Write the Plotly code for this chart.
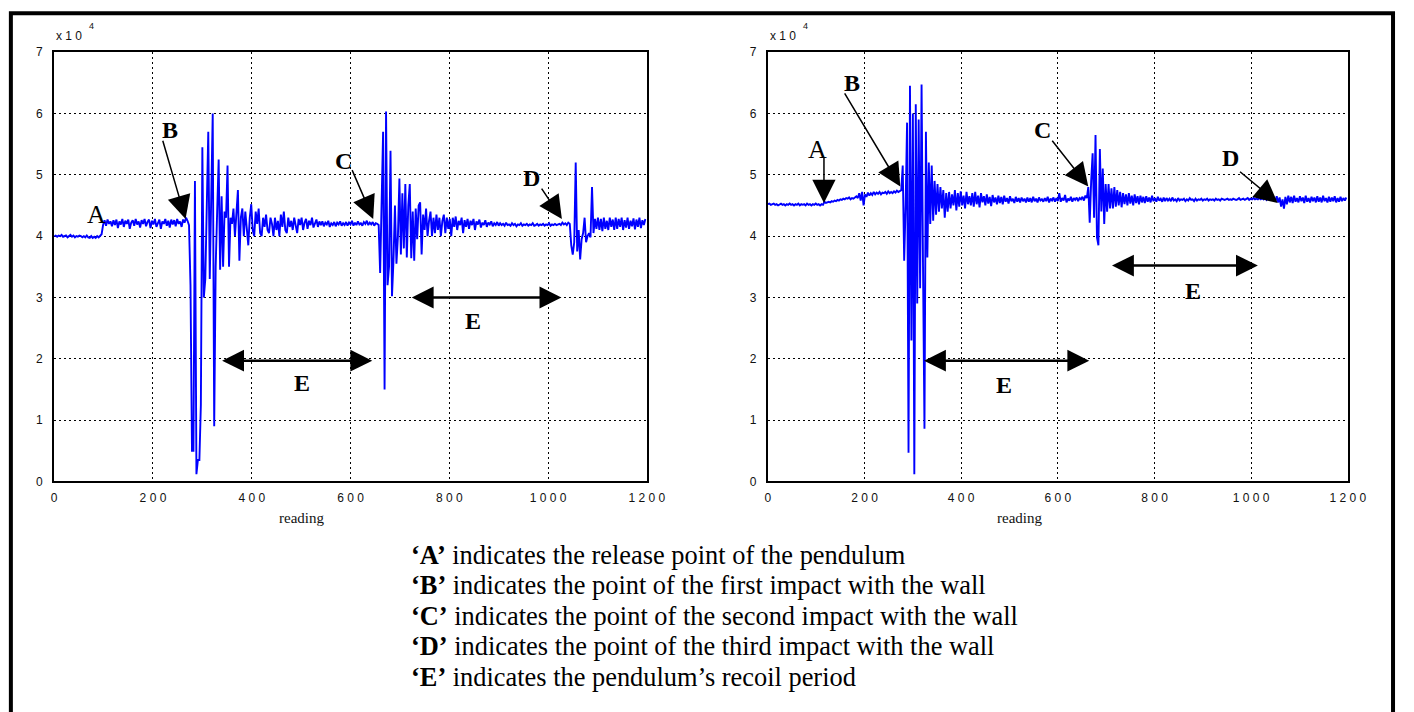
import numpy as np
import plotly.graph_objects as go

# Sensor readings sampled every 3rd reading (values in units of 10^4)
STEP = 3
readings = np.arange(0, 1200, STEP)

# Left test: three impacts with the wall
left_values = [
    4.00, 4.01, 3.99, 4.01, 4.00, 4.02, 3.99, 4.00, 4.01, 3.98, 4.00, 4.02, 3.99, 4.01, 3.98, 4.00, 3.99, 4.01, 4.00, 3.98,
    4.00, 3.98, 4.01, 3.98, 3.97, 4.00, 3.97, 3.99, 3.97, 4.00, 3.98, 4.01, 4.03, 4.18, 4.26, 4.17, 4.27, 4.20, 4.24, 4.16,
    4.26, 4.18, 4.27, 4.13, 4.24, 4.19, 4.28, 4.15, 4.25, 4.20, 4.27, 4.12, 4.22, 4.26, 4.17, 4.28, 4.19, 4.24, 4.14, 4.26,
    4.20, 4.28, 4.16, 4.23, 4.27, 4.13, 4.25, 4.19, 4.28, 4.15, 4.22, 4.27, 4.12, 4.24, 4.20, 4.28, 4.17, 4.25, 4.14, 4.27,
    4.19, 4.26, 4.16, 4.28, 4.20, 4.24, 4.15, 4.27, 4.22, 4.30, 4.25, 4.18, 3.20, 0.50, 0.50, 4.90, 0.12, 0.35, 0.35, 1.25,
    5.45, 3.00, 3.30, 4.50, 5.70, 3.30, 4.60, 6.00, 0.90, 3.50, 4.40, 5.25, 3.45, 4.65, 3.50, 4.40, 4.30, 5.15, 3.50, 4.30,
    4.20, 4.45, 4.00, 4.30, 4.75, 3.60, 4.30, 4.45, 4.00, 4.40, 4.10, 3.85, 4.30, 4.52, 4.10, 4.00, 4.40, 4.20, 4.45, 4.05,
    4.00, 4.30, 4.15, 4.35, 4.10, 4.05, 4.30, 4.20, 4.00, 4.30, 4.10, 4.25, 4.00, 4.35, 4.15, 4.40, 4.10, 4.05, 4.30, 4.15,
    4.25, 4.10, 4.30, 4.15, 4.05, 4.28, 4.18, 4.30, 4.10, 4.22, 4.28, 4.12, 4.25, 4.18, 4.30, 4.14, 4.22, 4.27, 4.15, 4.24,
    4.18, 4.24, 4.16, 4.22, 4.19, 4.25, 4.15, 4.21, 4.18, 4.23, 4.16, 4.22, 4.19, 4.24, 4.17, 4.21, 4.18, 4.23, 4.17, 4.22,
    4.19, 4.25, 4.17, 4.22, 4.18, 4.24, 4.19, 4.21, 4.17, 4.23, 4.20, 4.25, 4.18, 4.22, 4.19, 4.23, 4.17, 4.21, 4.20, 4.18,
    3.40, 4.90, 5.70, 1.50, 6.03, 3.20, 3.50, 5.39, 3.02, 3.60, 4.50, 3.55, 4.00, 4.94, 3.70, 4.70, 3.80, 4.85, 3.65, 4.50,
    4.85, 3.64, 4.40, 3.60, 4.45, 3.95, 4.50, 4.55, 3.70, 4.35, 4.10, 4.45, 4.00, 4.25, 4.40, 4.00, 4.30, 4.05, 4.35, 4.10,
    4.30, 4.00, 4.25, 4.35, 4.05, 4.30, 4.12, 4.28, 4.00, 4.30, 4.15, 4.32, 4.10, 4.25, 4.18, 4.30, 4.05, 4.26, 4.15, 4.28,
    4.12, 4.25, 4.18, 4.28, 4.10, 4.24, 4.19, 4.27, 4.14, 4.22, 4.18, 4.26, 4.15, 4.22, 4.19, 4.24, 4.16, 4.21, 4.18, 4.23,
    4.17, 4.21, 4.18, 4.20, 4.17, 4.22, 4.18, 4.19, 4.17, 4.21, 4.18, 4.20, 4.16, 4.19, 4.18, 4.21, 4.17, 4.19, 4.18, 4.20,
    4.17, 4.19, 4.18, 4.21, 4.17, 4.18, 4.20, 4.17, 4.19, 4.18, 4.20, 4.17, 4.19, 4.18, 4.21, 4.17, 4.19, 4.18, 4.20, 4.18,
    4.19, 4.20, 4.18, 4.22, 4.19, 4.21, 4.18, 4.22, 4.20, 3.85, 3.70, 3.90, 5.20, 3.75, 4.10, 3.62, 3.95, 4.05, 4.30, 3.90,
    4.00, 4.05, 3.98, 4.80, 4.05, 4.28, 4.12, 4.30, 4.10, 4.28, 4.08, 4.30, 4.12, 4.25, 4.10, 4.30, 4.15, 4.27, 4.10, 4.30,
    4.12, 4.28, 4.15, 4.30, 4.10, 4.26, 4.14, 4.30, 4.12, 4.25, 4.16, 4.29, 4.11, 4.27, 4.15, 4.30, 4.13, 4.26, 4.18, 4.28,
]

# Right test: one hard impact, a weaker second and a faint third
right_values = [
    4.52, 4.53, 4.51, 4.52, 4.53, 4.51, 4.52, 4.50, 4.52, 4.53, 4.51, 4.52, 4.50, 4.52, 4.51, 4.53, 4.51, 4.52, 4.50, 4.52,
    4.51, 4.53, 4.50, 4.52, 4.51, 4.52, 4.50, 4.53, 4.51, 4.52, 4.50, 4.52, 4.51, 4.53, 4.51, 4.52, 4.50, 4.52, 4.51, 4.56,
    4.54, 4.55, 4.56, 4.55, 4.57, 4.56, 4.58, 4.57, 4.59, 4.58, 4.60, 4.59, 4.61, 4.60, 4.62, 4.61, 4.63, 4.60, 4.62, 4.61,
    4.63, 4.65, 4.62, 4.70, 4.58, 4.72, 4.50, 4.68, 4.64, 4.71, 4.66, 4.70, 4.67, 4.72, 4.68, 4.71, 4.69, 4.72, 4.68, 4.71,
    4.70, 4.72, 4.69, 4.73, 4.70, 4.72, 4.70, 4.73, 4.71, 4.74, 4.72, 4.74, 4.75, 5.15, 3.60, 4.50, 5.85, 0.47, 6.45, 2.30,
    6.00, 0.12, 6.15, 2.90, 5.90, 3.15, 6.47, 3.50, 0.86, 5.70, 3.65, 5.20, 4.20, 5.15, 4.25, 4.90, 4.35, 4.85, 4.40, 4.80,
    4.45, 4.75, 4.30, 4.70, 4.40, 4.72, 4.45, 4.68, 4.50, 4.75, 4.42, 4.70, 4.48, 4.73, 4.50, 4.66, 4.45, 4.72, 4.52, 4.65,
    4.50, 4.70, 4.48, 4.72, 4.52, 4.66, 4.47, 4.70, 4.55, 4.65, 4.50, 4.68, 4.53, 4.64, 4.49, 4.67, 4.55, 4.63, 4.52, 4.66,
    4.54, 4.64, 4.52, 4.66, 4.56, 4.62, 4.53, 4.65, 4.57, 4.61, 4.54, 4.64, 4.56, 4.62, 4.55, 4.63, 4.57, 4.61, 4.55, 4.63,
    4.56, 4.62, 4.55, 4.64, 4.57, 4.61, 4.55, 4.63, 4.58, 4.60, 4.56, 4.62, 4.57, 4.64, 4.55, 4.61, 4.58, 4.63, 4.56, 4.62,
    4.57, 4.70, 4.56, 4.62, 4.58, 4.67, 4.55, 4.61, 4.58, 4.64, 4.56, 4.62, 4.59, 4.63, 4.57, 4.62, 4.60, 4.64, 4.58, 4.66,
    4.62, 4.80, 4.22, 4.90, 5.35, 4.30, 5.65, 3.98, 3.85, 5.42, 4.40, 5.10, 4.20, 4.85, 4.40, 4.85, 4.45, 4.78, 4.45, 4.80,
    4.48, 4.75, 4.50, 4.72, 4.47, 4.70, 4.52, 4.68, 4.50, 4.70, 4.53, 4.66, 4.50, 4.68, 4.54, 4.65, 4.52, 4.66, 4.55, 4.64,
    4.54, 4.65, 4.56, 4.63, 4.55, 4.66, 4.57, 4.62, 4.56, 4.64, 4.58, 4.61, 4.56, 4.63, 4.57, 4.62, 4.58, 4.61, 4.57, 4.63,
    4.58, 4.60, 4.57, 4.62, 4.58, 4.60, 4.59, 4.61, 4.57, 4.60, 4.58, 4.62, 4.59, 4.60, 4.57, 4.61, 4.58, 4.60, 4.59, 4.61,
    4.58, 4.60, 4.59, 4.61, 4.58, 4.60, 4.59, 4.60, 4.58, 4.61, 4.59, 4.60, 4.58, 4.61, 4.60, 4.59, 4.60, 4.61, 4.59, 4.60,
    4.59, 4.61, 4.60, 4.59, 4.60, 4.62, 4.59, 4.60, 4.61, 4.59, 4.60, 4.62, 4.59, 4.61, 4.60, 4.62, 4.60, 4.61, 4.60, 4.62,
    4.60, 4.62, 4.60, 4.63, 4.59, 4.62, 4.60, 4.64, 4.58, 4.62, 4.57, 4.65, 4.55, 4.63, 4.48, 4.60, 4.45, 4.64, 4.52, 4.66,
    4.55, 4.64, 4.54, 4.66, 4.56, 4.62, 4.55, 4.65, 4.57, 4.63, 4.54, 4.66, 4.56, 4.62, 4.55, 4.64, 4.57, 4.63, 4.55, 4.65,
    4.56, 4.63, 4.55, 4.66, 4.57, 4.62, 4.55, 4.64, 4.56, 4.63, 4.57, 4.65, 4.55, 4.62, 4.56, 4.64, 4.57, 4.62, 4.58, 4.63,
]

x_ticks = [0, 200, 400, 600, 800, 1000, 1200]
x_tick_labels = ["0", "2 0 0", "4 0 0", "6 0 0", "8 0 0", "1 0 0 0", "1 2 0 0"]
y_ticks = [0, 1, 2, 3, 4, 5, 6, 7]
y_tick_labels = ["0", "1", "2", "3", "4", "5", "6", "7"]

legend_lines = [
    ("‘A’", "indicates the release point of the pendulum"),
    ("‘B’", "indicates the point of the first impact with the wall"),
    ("‘C’", "indicates the point of the second impact with the wall"),
    ("‘D’", "indicates the point of the third impact with the wall"),
    ("‘E’", "indicates the pendulum’s recoil period"),
]

W, H = 1414, 712
SERIF = "Liberation Serif, Times New Roman, serif"
SANS = "Liberation Sans, Arial, sans-serif"


def px(v):
    return v / W


def py(v):
    return 1 - v / H


fig = go.Figure()
fig.add_trace(go.Scatter(x=readings[:len(left_values)], y=left_values, mode="lines",
                         line=dict(color="#0000ff", width=1.9), xaxis="x", yaxis="y",
                         showlegend=False, hoverinfo="skip"))
fig.add_trace(go.Scatter(x=readings[:len(right_values)], y=right_values, mode="lines",
                         line=dict(color="#0000ff", width=1.9), xaxis="x2", yaxis="y2",
                         showlegend=False, hoverinfo="skip"))

axis_style = dict(showline=True, mirror=True, linecolor="black", linewidth=2,
                  showgrid=True, gridcolor="black", griddash="2px,3px", gridwidth=1.4,
                  zeroline=False, ticks="", fixedrange=True,
                  tickfont=dict(family=SANS, size=12, color="#111"))

y_dom = [py(484), py(46)]
fig.update_layout(
    width=W, height=H, autosize=False,
    margin=dict(l=0, r=0, t=0, b=0),
    paper_bgcolor="white", plot_bgcolor="white",
    xaxis=dict(domain=[px(52), px(654)], range=[0, 1200], tickvals=x_ticks,
               ticktext=x_tick_labels, anchor="y", ticklabelstandoff=4, **axis_style),
    yaxis=dict(domain=y_dom, range=[0, 7], tickvals=y_ticks, ticktext=y_tick_labels,
               anchor="x", ticklabelstandoff=7, **axis_style),
    xaxis2=dict(domain=[px(777), px(1366)], range=[0, 1200], tickvals=x_ticks,
                ticktext=x_tick_labels, anchor="y2", ticklabelstandoff=4, **axis_style),
    yaxis2=dict(domain=y_dom, range=[0, 7], tickvals=y_ticks, ticktext=y_tick_labels,
                anchor="x2", ticklabelstandoff=7, **axis_style),
)

# Outer frame
fig.add_shape(type="rect", xref="paper", yref="paper", x0=px(8), x1=px(1412),
              y0=-0.2, y1=py(6.5), line=dict(color="black", width=4), layer="above")

# Axis exponent and axis titles
for x_left, x_mid in ((52, 303), (777, 1033)):
    fig.add_annotation(xref="paper", yref="paper", x=px(x_left), y=py(30),
                       xanchor="left", yanchor="middle", showarrow=False,
                       text="x 1 0", font=dict(family=SANS, size=12, color="#111"))
    fig.add_annotation(xref="paper", yref="paper", x=px(x_left + 38), y=py(19),
                       xanchor="center", yanchor="middle", showarrow=False,
                       text="4", font=dict(family=SANS, size=9, color="#111"))
    fig.add_annotation(xref="paper", yref="paper", x=px(x_mid), y=py(521),
                       xanchor="center", yanchor="middle", showarrow=False,
                       text="reading", font=dict(family=SERIF, size=15, color="#111"))


def label(xa, ya, x, y, text, bold=True, size=24):
    fig.add_annotation(xref=xa, yref=ya, x=x, y=y, text=f"<b>{text}</b>" if bold else text,
                       showarrow=False, xanchor="center", yanchor="middle",
                       font=dict(family=SERIF, size=size, color="black"))


def pointer(xa, ya, tail, tip, width=1.5, size=3.1, both=False):
    extra = dict(arrowside="end+start", startarrowhead=2, startarrowsize=size) if both else {}
    fig.add_annotation(xref=xa, yref=ya, axref=xa, ayref=ya, x=tip[0], y=tip[1],
                       ax=tail[0], ay=tail[1], text="", showarrow=True, arrowhead=2,
                       arrowwidth=width, arrowsize=size, arrowcolor="black", **extra)


# Left panel markers
label("x", "y", 86, 4.36, "A", bold=False, size=26)
label("x", "y", 235, 5.73, "B")
pointer("x", "y", (219, 5.58), (266, 4.28))
label("x", "y", 586, 5.22, "C")
pointer("x", "y", (602, 5.10), (646, 4.28))
label("x", "y", 967, 4.95, "D")
pointer("x", "y", (985, 4.80), (1028, 4.28))
pointer("x", "y", (337, 1.97), (644, 1.97), width=2.5, size=1.75, both=True)
label("x", "y", 502, 1.61, "E")
pointer("x", "y", (721, 3.0), (1027, 3.0), width=2.5, size=1.75, both=True)
label("x", "y", 849, 2.62, "E")

# Right panel markers
label("x2", "y2", 102, 5.42, "A", bold=False, size=26)
pointer("x2", "y2", (116, 5.31), (116, 4.54))
label("x2", "y2", 173, 6.49, "B")
pointer("x2", "y2", (157, 6.35), (274, 4.81))
label("x2", "y2", 569, 5.73, "C")
pointer("x2", "y2", (586, 5.58), (663, 4.81))
label("x2", "y2", 958, 5.27, "D")
pointer("x2", "y2", (974, 5.07), (1055, 4.54))
pointer("x2", "y2", (320, 1.97), (665, 1.97), width=2.5, size=1.75, both=True)
label("x2", "y2", 488, 1.58, "E")
pointer("x2", "y2", (709, 3.52), (1014, 3.52), width=2.5, size=1.75, both=True)
label("x2", "y2", 879, 3.10, "E")

# Key below the panels
for i, (tag, desc) in enumerate(legend_lines):
    fig.add_annotation(xref="paper", yref="paper", x=px(412), y=py(559 + 31 * i),
                       xanchor="left", yanchor="middle", showarrow=False,
                       text=f"<b>{tag}</b> {desc}",
                       font=dict(family=SERIF, size=26.4, color="black"))

fig.write_html("out.html")
